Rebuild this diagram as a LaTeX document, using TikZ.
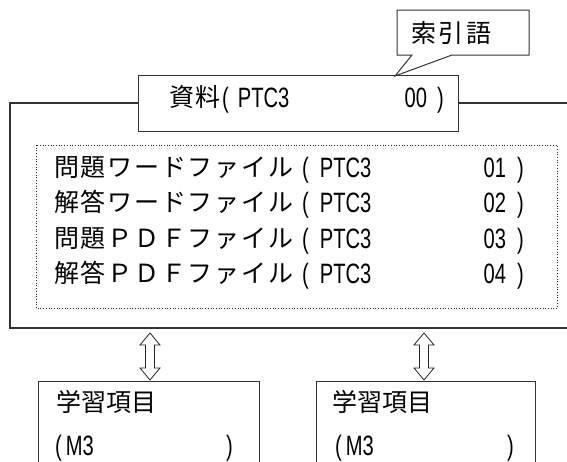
\documentclass[tikz,border=0pt]{standalone}
\usepackage{fontspec}
\newfontfamily\jp{Noto Sans CJK JP}
\newfontfamily\nar[FakeStretch=0.72]{Liberation Sans}
\usetikzlibrary{calc}
\begin{document}
\begin{tikzpicture}[x=1pt,y=-1pt,
  frameline/.style={draw=black!80, line width=1.1pt},
  boxline/.style={draw=black!80, line width=1pt, fill=white},
  dotbox/.style={draw=black!85, line width=0.7pt, dotted},
  arrowshape/.style={draw=black!85, line width=0.8pt, fill=white, line join=miter},
  jpA/.style={anchor=base west, inner sep=0, font={\jp\fontsize{25}{25}\selectfont\addfontfeature{LetterSpace=7}}},
  jpT/.style={anchor=base west, inner sep=0, font={\jp\fontsize{25}{25}\selectfont\addfontfeature{LetterSpace=11}}},
  jpB/.style={anchor=base west, inner sep=0, font={\jp\fontsize{25}{25}\selectfont\addfontfeature{LetterSpace=4}}},
  jpC/.style={anchor=base west, inner sep=0, font={\jp\fontsize{25}{25}\selectfont}},
  latW/.style={anchor=base west, inner sep=0, font={\nar\fontsize{28}{28}\selectfont}},
  latE/.style={anchor=base east, inner sep=0, font={\nar\fontsize{28}{28}\selectfont}}
]
\useasboundingbox (0,0) rectangle (567,461);
\clip (0,0) rectangle (567,461);

% outer frame
\draw[frameline] (10,103) rectangle (590,328);
\coordinate (frameL) at (150,328);
\coordinate (frameR) at (424,328);

% resource box
\draw[boxline] (138,75) rectangle (458,131);
\node[jpB] (shiryo) at (169,106) {資料};
\node[latW] (shiryoP) at (222,107) {(\hspace{9pt}PTC3};
\node[latE] (shiryoN) at (444,107) {00\hspace{10pt})};

% callout
\coordinate (tip) at (395,76);
\draw[boxline, line join=miter] (397,10) -- (529,10) -- (529,55) -- (452,55) -- (tip) -- (412,55) -- (397,55) -- cycle;
\node[jpT] (sakuin) at (411,42) {索引語};

% dotted box
\draw[dotbox] (36,145) rectangle (557,308);
\node[jpA] (f1) at (54,176) {問題ワードファイル};
\node[jpA] (f2) at (54,211.5) {解答ワードファイル};
\node[jpA] (f3) at (54,247) {問題ＰＤＦファイル};
\node[jpA] (f4) at (54,282.5) {解答ＰＤＦファイル};
\node[latW] (p1) at (302,177) {(\hspace{11pt}PTC3};
\node[latW] (p2) at (302,212.5) {(\hspace{11pt}PTC3};
\node[latW] (p3) at (302,248) {(\hspace{11pt}PTC3};
\node[latW] (p4) at (302,283.5) {(\hspace{11pt}PTC3};
\node[latE] (n1) at (524,177) {01\hspace{11pt})};
\node[latE] (n2) at (524,212.5) {02\hspace{11pt})};
\node[latE] (n3) at (524,248) {03\hspace{11pt})};
\node[latE] (n4) at (524,283.5) {04\hspace{11pt})};

% bottom boxes
\draw[boxline] (38,381) rectangle (259,480);
\draw[boxline] (316,381) rectangle (535,480);
\coordinate (boxL) at (150,381);
\coordinate (boxR) at (424,381);
\node[jpC] (g1) at (56,411) {学習項目};
\node[latW] (m1) at (55,455) {(\hspace{4pt}M3};
\node[latE] (c1) at (233,455) {)};
\node[jpC] (g2) at (332,411) {学習項目};
\node[latW] (m2) at (335,455) {(\hspace{4pt}M3};
\node[latE] (c2) at (514,455) {)};

% double arrows
\foreach \s/\e in {frameL/boxL, frameR/boxR}{
  \draw[arrowshape] ($(\s)+(0,5)$) -- ++(10,12) -- ++(-5.5,0) -- ++(0,23) -- ++(5.5,0)
     -- ($(\e)+(0,-1)$) -- ++(-10,-12) -- ++(5.5,0) -- ++(0,-23) -- ++(-5.5,0) -- cycle;
}
\end{tikzpicture}
\end{document}
